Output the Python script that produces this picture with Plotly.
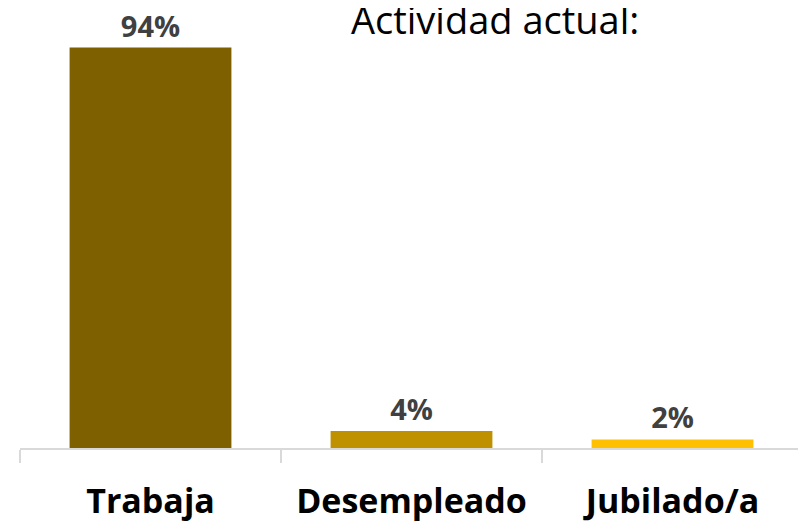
import plotly.graph_objects as go

categories = ["Trabaja", "Desempleado", "Jubilado/a"]
values = [94, 4, 2]
labels = ["94%", "4%", "2%"]
colors = ["#7F6000", "#BF9000", "#FFC000"]
title_text = "Actividad actual:"

# page body has an 8px margin, so compensate
W, H = 798, 518
ml, mr, mt, mb = 12, 3, 14, 76
pw, ph = W - ml - mr, H - mt - mb

fig = go.Figure(go.Bar(
    x=categories, y=values, text=labels, textposition="outside",
    marker=dict(color=colors, line=dict(width=0)),
    textfont=dict(family="Open Sans", size=29, color="#404040", weight="bold"),
    cliponaxis=False, width=0.62,
))

fig.update_layout(
    width=W, height=H, margin=dict(l=ml, r=mr, t=mt, b=mb),
    plot_bgcolor="white", paper_bgcolor="white", showlegend=False,
    xaxis=dict(range=[-0.5, 2.5], tickson="boundaries", ticks="outside", ticklen=13,
               tickcolor="#D9D9D9", tickwidth=2, showline=True, linecolor="#D9D9D9",
               linewidth=2, showgrid=False, ticklabelstandoff=22,
               tickfont=dict(family="Open Sans", size=34, color="black", weight="bold")),
    yaxis=dict(range=[0, 100], visible=False, showgrid=False),
    annotations=[dict(text=title_text, xref="paper", yref="paper",
                      x=(495 - 8 - ml) / pw, y=(H - mb - 39) / ph,
                      xanchor="center", yanchor="bottom", showarrow=False,
                      font=dict(family="Open Sans", size=38, color="black"))],
)

fig.write_html("out.html")
